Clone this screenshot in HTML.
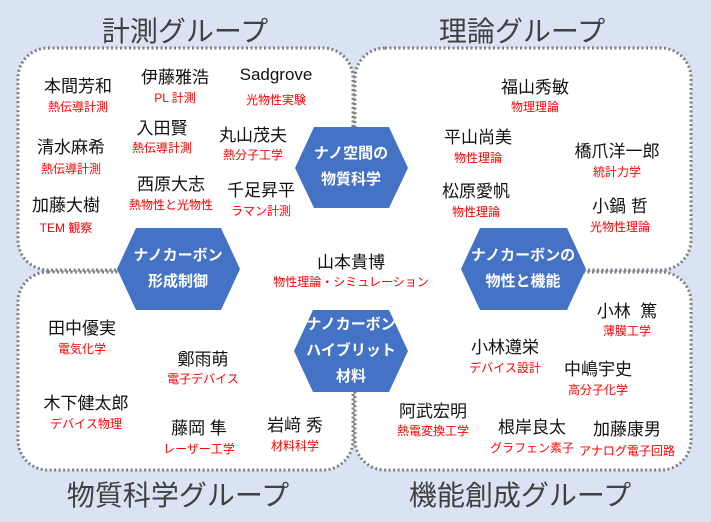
<!DOCTYPE html>
<html><head><meta charset="utf-8"><style>
body{margin:0;width:711px;height:522px;background:#dae3f3;overflow:hidden;font-family:"Liberation Sans","Noto Sans CJK JP",sans-serif}
svg{position:absolute;left:0;top:0}
.t{position:absolute;transform:translateX(-50%);white-space:nowrap;text-align:center}
.n{font-size:17px;color:#111}
.s{font-size:12px;color:#f00}
.g{font-size:28px;color:#404040}
.h{font-size:15px;color:#fff;font-weight:bold;line-height:26px}
</style></head><body>
<svg width="711" height="522">
<g fill="#fff" stroke="#7f7f7f" stroke-width="3" stroke-dasharray="2 2.5">
<rect x="18" y="48" width="335" height="222" rx="30"/>
<rect x="355" y="48" width="336" height="222" rx="30"/>
<rect x="18" y="272" width="335" height="198" rx="30"/>
<rect x="355" y="272" width="336" height="198" rx="30"/>
</g>
<g fill="#fff">
<rect x="230" y="200" width="240" height="120"/>
<rect x="338" y="190" width="30" height="140"/>
</g>
<g fill="#4472c4">
<polygon points="295,168 314,127 389,127 408,168 389,208 314,208"/>
<polygon points="117,269 136,228 221,228 240,269 221,310 136,310"/>
<polygon points="461,269 480,228 567,228 586,269 567,310 480,310"/>
<polygon points="294,351 313,310 389,310 408,351 389,392 313,392"/>
</g>
</svg>
<div class="t g" style="left:185px;top:10px">計測グループ</div>
<div class="t g" style="left:522px;top:10px">理論グループ</div>
<div class="t g" style="left:178px;top:474px">物質科学グループ</div>
<div class="t g" style="left:520px;top:474px">機能創成グループ</div>

<div class="t h" style="left:351px;top:141px">ナノ空間の<br>物質科学</div>
<div class="t h" style="left:178px;top:243px">ナノカーボン<br>形成制御</div>
<div class="t h" style="left:523px;top:243px">ナノカーボンの<br>物性と機能</div>
<div class="t h" style="left:351px;top:312px">ナノカーボン<br>ハイブリット<br>材料</div>

<div class="t n" style="left:78px;top:72px">本間芳和</div><div class="t s" style="left:78px;top:98px">熱伝導計測</div>
<div class="t n" style="left:175px;top:63px">伊藤雅浩</div><div class="t s" style="left:175px;top:89px">PL 計測</div>
<div class="t n" style="left:276px;top:65px">Sadgrove</div><div class="t s" style="left:276px;top:91px">光物性実験</div>
<div class="t n" style="left:162px;top:114px">入田賢</div><div class="t s" style="left:162px;top:139px">熱伝導計測</div>
<div class="t n" style="left:253px;top:121px">丸山茂夫</div><div class="t s" style="left:253px;top:146px">熱分子工学</div>
<div class="t n" style="left:71px;top:133px">清水麻希</div><div class="t s" style="left:71px;top:160px">熱伝導計測</div>
<div class="t n" style="left:171px;top:170px">西原大志</div><div class="t s" style="left:171px;top:196px">熱物性と光物性</div>
<div class="t n" style="left:261px;top:176px">千足昇平</div><div class="t s" style="left:261px;top:202px">ラマン計測</div>
<div class="t n" style="left:66px;top:191px">加藤大樹</div><div class="t s" style="left:66px;top:219px">TEM 観察</div>

<div class="t n" style="left:535px;top:73px">福山秀敏</div><div class="t s" style="left:535px;top:98px">物理理論</div>
<div class="t n" style="left:478px;top:123px">平山尚美</div><div class="t s" style="left:478px;top:149px">物性理論</div>
<div class="t n" style="left:617px;top:137px">橋爪洋一郎</div><div class="t s" style="left:617px;top:163px">統計力学</div>
<div class="t n" style="left:476px;top:177px">松原愛帆</div><div class="t s" style="left:476px;top:203px">物性理論</div>
<div class="t n" style="left:620px;top:192px">小鍋&nbsp;哲</div><div class="t s" style="left:620px;top:218px">光物性理論</div>

<div class="t n" style="left:351px;top:248px">山本貴博</div><div class="t s" style="left:351px;top:273px">物性理論・シミュレーション</div>

<div class="t n" style="left:82px;top:314px">田中優実</div><div class="t s" style="left:82px;top:340px">電気化学</div>
<div class="t n" style="left:203px;top:345px">鄭雨萌</div><div class="t s" style="left:203px;top:370px">電子デバイス</div>
<div class="t n" style="left:86px;top:389px">木下健太郎</div><div class="t s" style="left:86px;top:415px">デバイス物理</div>
<div class="t n" style="left:199px;top:414px">藤岡&nbsp;隼</div><div class="t s" style="left:199px;top:440px">レーザー工学</div>
<div class="t n" style="left:295px;top:411px">岩﨑&nbsp;秀</div><div class="t s" style="left:295px;top:437px">材料科学</div>

<div class="t n" style="left:627px;top:297px">小林&nbsp;&nbsp;篤</div><div class="t s" style="left:627px;top:322px">薄膜工学</div>
<div class="t n" style="left:505px;top:333px">小林遵栄</div><div class="t s" style="left:505px;top:359px">デバイス設計</div>
<div class="t n" style="left:598px;top:355px">中嶋宇史</div><div class="t s" style="left:598px;top:381px">高分子化学</div>
<div class="t n" style="left:433px;top:397px">阿武宏明</div><div class="t s" style="left:433px;top:422px">熱電変換工学</div>
<div class="t n" style="left:532px;top:413px">根岸良太</div><div class="t s" style="left:532px;top:439px">グラフェン素子</div>
<div class="t n" style="left:627px;top:415px">加藤康男</div><div class="t s" style="left:627px;top:442px">アナログ電子回路</div>
</body></html>
